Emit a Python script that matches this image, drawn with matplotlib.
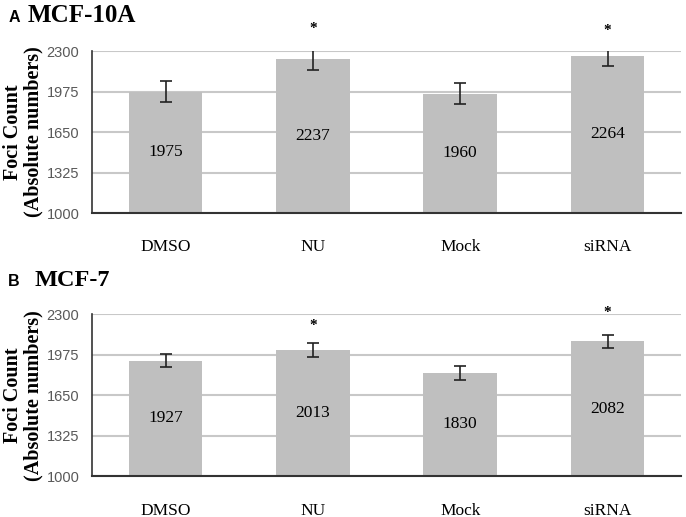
import matplotlib
matplotlib.use("Agg")
import matplotlib.pyplot as plt

# data
groups = ["DMSO", "NU", "Mock", "siRNA"]
mcf10a_counts = [1975, 2237, 1960, 2264]
mcf10a_err = [85, 85, 87, 83]
mcf7_counts = [1927, 2013, 1830, 2082]
mcf7_err = [52, 57, 56, 56]
mcf10a_star = [None, 2485, None, 2470]
mcf7_star = [None, 2212, None, 2318]
yticks = [1000, 1325, 1650, 1975, 2300]

serif = "Liberation Serif"
sans = "Liberation Sans"

fig = plt.figure(figsize=(6.86, 5.17), dpi=100)


def draw_panel(ax, counts, err, stars):
    x = range(len(groups))
    ax.bar(x, counts, width=0.5, color="#bfbfbf", zorder=2)
    ax.errorbar(x, counts, yerr=err, fmt="none", ecolor="#222222",
                elinewidth=1.2, capsize=4, capthick=1.2, zorder=3)
    for i, v in enumerate(counts):
        ax.text(i, (1000 + v) / 2, str(v), ha="center", va="center",
                fontsize=12.5, family=serif, zorder=4)
        if stars[i] is not None:
            ax.text(i, stars[i], "*", ha="center", va="center",
                    fontsize=11, family=serif, fontweight="bold",
                    clip_on=False)
    ax.set_xlim(-0.5, 3.5)
    ax.set_ylim(1000, 2300)
    ax.set_yticks(yticks)
    ax.set_yticklabels([str(t) for t in yticks], family=sans,
                       fontsize=10.5, color="#595959")
    ax.set_xticks(list(x))
    ax.set_xticklabels(groups, family=serif, fontsize=12.5)
    ax.tick_params(axis="both", length=0)
    ax.tick_params(axis="x", pad=19)
    ax.tick_params(axis="y", pad=9)
    ax.yaxis.grid(True, color="#c8c8c8", linewidth=1.5, zorder=0)
    ax.set_axisbelow(True)
    for s in ["top", "right"]:
        ax.spines[s].set_visible(False)
    ax.spines["left"].set_color("#333333")
    ax.spines["bottom"].set_color("#333333")
    ax.spines["left"].set_linewidth(1.2)
    ax.spines["bottom"].set_linewidth(1.5)
    ax.set_ylabel("Foci Count\n(Absolute numbers)", family=serif,
                  fontweight="bold", fontsize=14.5, linespacing=1.0)
    ax.yaxis.set_label_coords(-0.083, 0.5)


ax_a = fig.add_axes([0.134, 0.588, 0.859, 0.313])
draw_panel(ax_a, mcf10a_counts, mcf10a_err, mcf10a_star)
ax_b = fig.add_axes([0.134, 0.079, 0.859, 0.313])
draw_panel(ax_b, mcf7_counts, mcf7_err, mcf7_star)

# panel titles
fig.text(0.012, 1 - 17 / 517, "A", family=sans, fontweight="bold",
         fontsize=11.5, va="center")
fig.text(0.040, 1 - 16 / 517, "MCF-10A", family=serif, fontweight="bold",
         fontsize=18, va="center")
fig.text(0.012, 1 - 282 / 517, "B", family=sans, fontweight="bold",
         fontsize=11.5, va="center")
fig.text(0.050, 1 - 281 / 517, "MCF-7", family=serif, fontweight="bold",
         fontsize=17.5, va="center")

fig.savefig("out.png", dpi=100)
